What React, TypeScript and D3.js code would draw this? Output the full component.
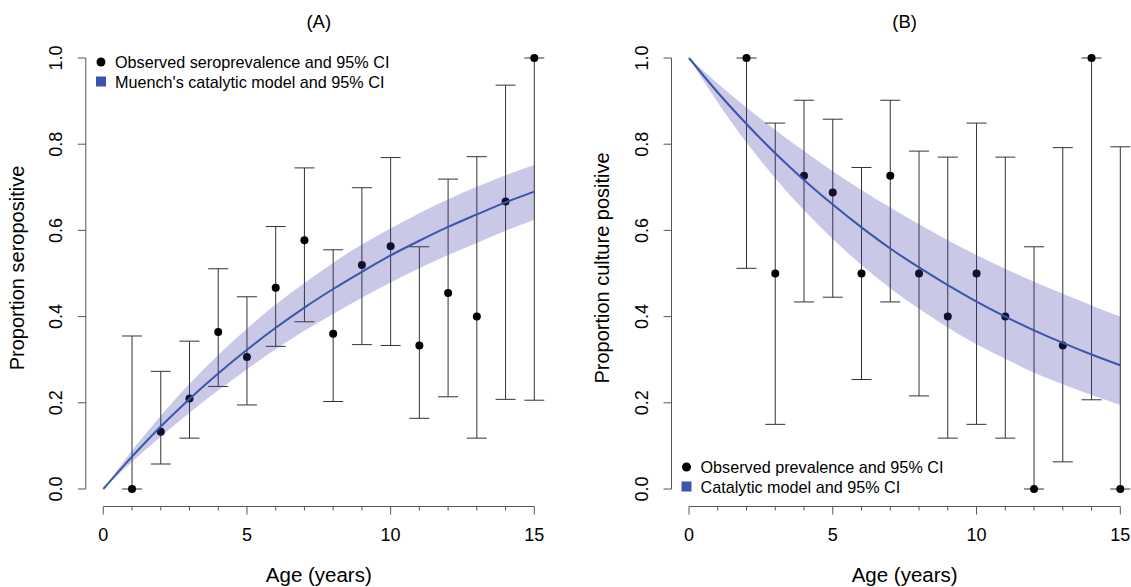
import React from "react";
import * as d3 from "d3";

// ---------- Panel A data (seroprevalence) ----------
const obsAgesA = [1, 2, 3, 4, 5, 6, 7, 8, 9, 10, 11, 12, 13, 14, 15];
const obsPrevA = [0, 0.133, 0.21, 0.364, 0.306, 0.467, 0.577, 0.36, 0.52, 0.563, 0.333, 0.455, 0.4, 0.667, 1.0];
const obsLoA = [0, 0.058, 0.118, 0.238, 0.195, 0.331, 0.388, 0.203, 0.335, 0.333, 0.164, 0.214, 0.118, 0.208, 0.206];
const obsHiA = [0.355, 0.273, 0.343, 0.511, 0.446, 0.609, 0.745, 0.555, 0.699, 0.769, 0.562, 0.719, 0.771, 0.937, 1.0];

const modelAges = [0, 1, 2, 3, 4, 5, 6, 7, 8, 9, 10, 11, 12, 13, 14, 15];
const modelA = [0, 0.075, 0.145, 0.209, 0.268, 0.323, 0.374, 0.421, 0.464, 0.504, 0.542, 0.576, 0.608, 0.637, 0.665, 0.69];
const modelLoA = [0, 0.063, 0.122, 0.177, 0.229, 0.278, 0.324, 0.367, 0.406, 0.444, 0.479, 0.512, 0.543, 0.571, 0.599, 0.624];
const modelHiA = [0, 0.089, 0.17, 0.244, 0.311, 0.372, 0.428, 0.478, 0.525, 0.567, 0.605, 0.64, 0.672, 0.701, 0.728, 0.752];

// ---------- Panel B data (culture positive) ----------
const obsAgesB = [2, 3, 4, 5, 6, 7, 8, 9, 10, 11, 12, 13, 14, 15];
const obsPrevB = [1.0, 0.5, 0.727, 0.688, 0.5, 0.727, 0.5, 0.4, 0.5, 0.4, 0, 0.333, 1.0, 0];
const obsLoB = [0.512, 0.15, 0.434, 0.445, 0.254, 0.434, 0.216, 0.118, 0.15, 0.118, 0, 0.063, 0.207, 0];
const obsHiB = [1.0, 0.849, 0.902, 0.858, 0.746, 0.902, 0.784, 0.77, 0.849, 0.77, 0.562, 0.792, 1.0, 0.794];

const modelB = [1, 0.92, 0.847, 0.779, 0.717, 0.66, 0.607, 0.558, 0.514, 0.473, 0.435, 0.4, 0.368, 0.339, 0.312, 0.287];
const modelLoB = [1, 0.897, 0.804, 0.721, 0.647, 0.58, 0.52, 0.466, 0.418, 0.375, 0.336, 0.302, 0.27, 0.243, 0.218, 0.195];
const modelHiB = [1, 0.941, 0.885, 0.833, 0.784, 0.737, 0.694, 0.653, 0.614, 0.577, 0.543, 0.511, 0.481, 0.453, 0.426, 0.4];

const yTicks = [0, 0.2, 0.4, 0.6, 0.8, 1.0];
const xTicks = [0, 1, 2, 3, 4, 5, 6, 7, 8, 9, 10, 11, 12, 13, 14, 15];
const xLabels = [0, 5, 10, 15];

const FONT = "'Liberation Sans', Arial, sans-serif";
const AXIS = "#555";
const BAR = "#333";
const LINE = "#3a55aa";
const BAND = "rgba(60,60,170,0.28)";

type PanelProps = {
  title: string;
  yTitle: string;
  x0: number;
  x1: number;
  ages: number[];
  prev: number[];
  lo: number[];
  hi: number[];
  model: number[];
  modelLo: number[];
  modelHi: number[];
  legend: string[];
  legendX: number;
  legendY: number;
  yTitleX: number;
};

function Panel(p: PanelProps) {
  const x = d3.scaleLinear().domain([0, 15]).range([p.x0, p.x1]);
  const y = d3.scaleLinear().domain([0, 1]).range([489, 58]);
  const axisX = p.x0 - 17.5;
  const axisY = 506.5;
  const cap = 10;

  const area = d3
    .area<number>()
    .x((_, i) => x(modelAges[i]))
    .y0((_, i) => y(p.modelLo[i]))
    .y1((_, i) => y(p.modelHi[i]))
    .curve(d3.curveMonotoneX);
  const line = d3
    .line<number>()
    .x((_, i) => x(modelAges[i]))
    .y((d) => y(d))
    .curve(d3.curveMonotoneX);

  const cx = (p.x0 + p.x1) / 2;

  return (
    <g fontFamily={FONT}>
      <text x={cx} y={21} fontSize={18.5} textAnchor="middle" dominantBaseline="central">
        {p.title}
      </text>
      {/* y axis */}
      <line x1={axisX} x2={axisX} y1={y(0)} y2={y(1)} stroke={AXIS} strokeWidth={1} />
      {yTicks.map((t) => (
        <g key={t}>
          <line x1={axisX - 8} x2={axisX} y1={y(t)} y2={y(t)} stroke={AXIS} strokeWidth={1} />
          <text
            transform={`translate(${axisX - 30},${y(t)}) rotate(-90)`}
            fontSize={18}
            textAnchor="middle"
            dominantBaseline="central"
          >
            {t.toFixed(1)}
          </text>
        </g>
      ))}
      <text
        transform={`translate(${p.yTitleX},268) rotate(-90)`}
        fontSize={20}
        textAnchor="middle"
        dominantBaseline="central"
      >
        {p.yTitle}
      </text>
      {/* x axis */}
      <line x1={x(0)} x2={x(15)} y1={axisY} y2={axisY} stroke={AXIS} strokeWidth={1} />
      {xTicks.map((t) => (
        <line
          key={t}
          x1={x(t)}
          x2={x(t)}
          y1={axisY}
          y2={axisY + (t % 5 === 0 ? 8 : 4)}
          stroke={AXIS}
          strokeWidth={1}
        />
      ))}
      {xLabels.map((t) => (
        <text key={t} x={x(t)} y={535} fontSize={18} textAnchor="middle" dominantBaseline="central">
          {t}
        </text>
      ))}
      <text x={cx} y={574} fontSize={20.5} textAnchor="middle" dominantBaseline="central">
        Age (years)
      </text>
      {/* error bars and points */}
      {p.ages.map((a, i) => (
        <g key={a}>
          <line x1={x(a)} x2={x(a)} y1={y(p.lo[i])} y2={y(p.hi[i])} stroke={BAR} strokeWidth={1} />
          <line x1={x(a) - cap} x2={x(a) + cap} y1={y(p.lo[i])} y2={y(p.lo[i])} stroke={BAR} strokeWidth={1} />
          <line x1={x(a) - cap} x2={x(a) + cap} y1={y(p.hi[i])} y2={y(p.hi[i])} stroke={BAR} strokeWidth={1} />
          <circle cx={x(a)} cy={y(p.prev[i])} r={4} fill="#000" />
        </g>
      ))}
      {/* model band and curve */}
      <path d={area(p.model) || ""} fill={BAND} stroke="none" />
      <path d={line(p.model) || ""} fill="none" stroke={LINE} strokeWidth={2} />
      {/* legend */}
      <circle cx={p.legendX} cy={p.legendY} r={4.5} fill="#000" />
      <rect x={p.legendX - 5} y={p.legendY + 19.5 - 5} width={10} height={10} fill={LINE} />
      <text x={p.legendX + 14} y={p.legendY} fontSize={16.2} dominantBaseline="central">
        {p.legend[0]}
      </text>
      <text x={p.legendX + 14} y={p.legendY + 19.5} fontSize={16.2} dominantBaseline="central">
        {p.legend[1]}
      </text>
    </g>
  );
}

export default function App() {
  return (
    <svg
      width={1131}
      height={587}
      style={{ position: "absolute", left: 0, top: 0, background: "#fff" }}
    >
      <rect width={1131} height={587} fill="#fff" />
      <Panel
        title="(A)"
        yTitle="Proportion seropositive"
        x0={103.3}
        x1={534.3}
        ages={obsAgesA}
        prev={obsPrevA}
        lo={obsLoA}
        hi={obsHiA}
        model={modelA}
        modelLo={modelLoA}
        modelHi={modelHiA}
        legend={["Observed seroprevalence and 95% CI", "Muench's catalytic model and 95% CI"]}
        legendX={101}
        legendY={62}
        yTitleX={17}
      />
      <Panel
        title="(B)"
        yTitle="Proportion culture positive"
        x0={689}
        x1={1120.3}
        ages={obsAgesB}
        prev={obsPrevB}
        lo={obsLoB}
        hi={obsHiB}
        model={modelB}
        modelLo={modelLoB}
        modelHi={modelHiB}
        legend={["Observed prevalence and 95% CI", "Catalytic model and 95% CI"]}
        legendX={686.5}
        legendY={467}
        yTitleX={602}
      />
    </svg>
  );
}
